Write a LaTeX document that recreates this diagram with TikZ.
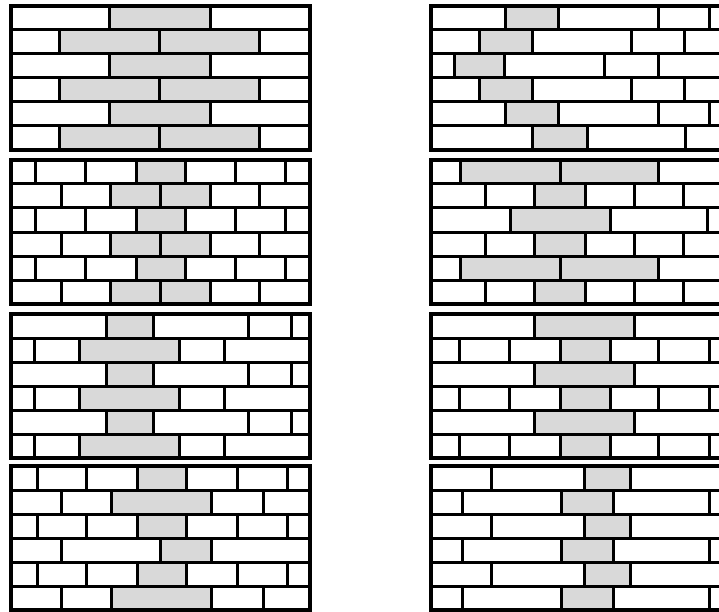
\documentclass[tikz,border=0pt]{standalone}
\definecolor{brickgrey}{HTML}{D9D9D9}
\tikzset{
  joint/.style={line width=3pt, line cap=rect},
  course/.style={line width=3pt},
  frame/.style={line width=3.2pt, line join=miter},
}
\newcommand\brickrow[4]{% #1 ytop, #2 joints, #3 grey pairs, #4 unused
  \foreach \a/\b in {#3} {\fill[brickgrey] (\a,#1) rectangle (\b,{#1+24});}
  \foreach \x in {#2} {\draw[joint] (\x,#1) -- (\x,{#1+24});}
}
\newcommand\wallframe[3]{% #1 xleft, #2 xright, #3 ytop
  \foreach \k in {1,...,5} {\draw[course] (#1,{#3+24*\k}) -- (#2,{#3+24*\k});}
  \draw[frame] (#1,#3) rectangle (#2,{#3+144});
}
\begin{document}
\begin{tikzpicture}[x=1pt,y=-1pt]
\useasboundingbox (0,0) rectangle (719,612);
\clip (0,0) rectangle (719,612);
\fill[white] (0,0) rectangle (719,612);

% ---------- panel A left ----------
\brickrow{6}{109,210}{109/210}{}
\brickrow{30}{59,159,259}{59/259}{}
\brickrow{54}{109,210}{109/210}{}
\brickrow{78}{59,159,259}{59/259}{}
\brickrow{102}{109,210}{109/210}{}
\brickrow{126}{59,159,259}{59/259}{}
\wallframe{11}{310}{6}

% ---------- panel A right ----------
\brickrow{6}{505,558,658,709}{505/558}{}
\brickrow{30}{479,532,631,684}{479/532}{}
\brickrow{54}{454,504,604,658}{454/504}{}
\brickrow{78}{479,532,631,684}{479/532}{}
\brickrow{102}{505,558,658,709}{505/558}{}
\brickrow{126}{532,587,685}{532/587}{}
\wallframe{431}{726}{6}

% ---------- panel B left ----------
\brickrow{160}{35,85,136,185,235,285}{136/185}{}
\brickrow{184}{61,110,160,210,259}{110/210}{}
\brickrow{208}{35,85,136,185,235,285}{136/185}{}
\brickrow{232}{61,110,160,210,259}{110/210}{}
\brickrow{256}{35,85,136,185,235,285}{136/185}{}
\brickrow{280}{61,110,160,210,259}{110/210}{}
\wallframe{11}{310}{160}

% ---------- panel B right ----------
\brickrow{160}{460,560,658}{460/658}{}
\brickrow{184}{485,534,585,634,683}{534/585}{}
\brickrow{208}{510,610,707}{510/610}{}
\brickrow{232}{485,534,585,634,683}{534/585}{}
\brickrow{256}{460,560,658}{460/658}{}
\brickrow{280}{485,534,585,634,683}{534/585}{}
\wallframe{431}{726}{160}

% ---------- panel C left ----------
\brickrow{314}{106,153,248,291}{106/153}{}
\brickrow{338}{34,79,179,224}{79/179}{}
\brickrow{362}{106,153,248,291}{106/153}{}
\brickrow{386}{34,79,179,224}{79/179}{}
\brickrow{410}{106,153,248,291}{106/153}{}
\brickrow{434}{34,79,179,224}{79/179}{}
\wallframe{11}{310}{314}

% ---------- panel C right ----------
\brickrow{314}{534,634}{534/634}{}
\brickrow{338}{459,509,560,610,658,709}{560/610}{}
\brickrow{362}{534,634}{534/634}{}
\brickrow{386}{459,509,560,610,658,709}{560/610}{}
\brickrow{410}{534,634}{534/634}{}
\brickrow{434}{459,509,560,610,658,709}{560/610}{}
\wallframe{431}{726}{314}

% ---------- panel D left ----------
\brickrow{466}{37,86,137,186,237,287}{137/186}{}
\brickrow{490}{61,111,211,263}{111/211}{}
\brickrow{514}{37,86,137,186,237,287}{137/186}{}
\brickrow{538}{61,160,211}{160/211}{}
\brickrow{562}{37,86,137,186,237,287}{137/186}{}
\brickrow{586}{61,111,211,263}{111/211}{}
\wallframe{11}{310}{466}

% ---------- panel D right ----------
\brickrow{466}{491,584,630}{584/630}{}
\brickrow{490}{462,561,613,709}{561/613}{}
\brickrow{514}{491,584,630}{584/630}{}
\brickrow{538}{462,561,613,709}{561/613}{}
\brickrow{562}{491,584,630}{584/630}{}
\brickrow{586}{462,561,613,709}{561/613}{}
\wallframe{431}{726}{466}
\end{tikzpicture}
\end{document}
